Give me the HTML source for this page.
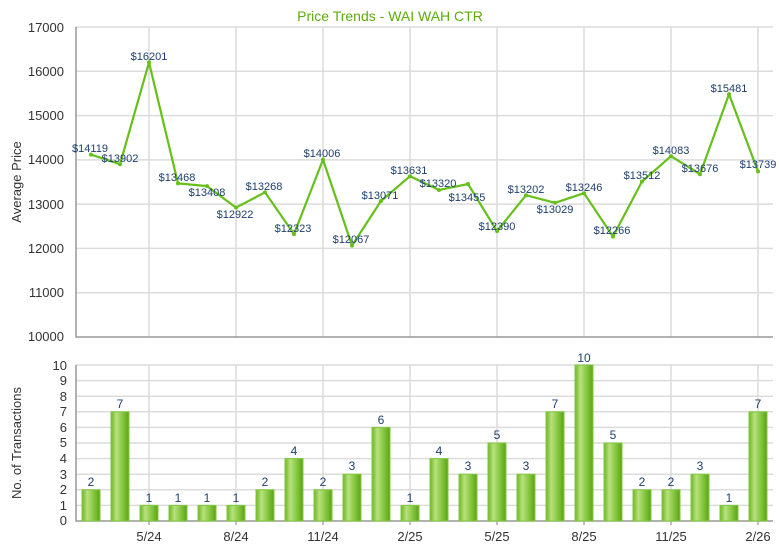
<!DOCTYPE html>
<html><head><meta charset="utf-8"><style>body{margin:0;background:#fff}svg{display:block;font-family:"Liberation Sans",Arial,sans-serif}</style></head><body>
<svg width="780" height="550" xmlns="http://www.w3.org/2000/svg">
<defs><linearGradient id="g" x1="0" x2="1" y1="0" y2="0"><stop offset="0" stop-color="#6db526"/><stop offset="0.3" stop-color="#b8e27e"/><stop offset="0.7" stop-color="#7fc23a"/><stop offset="1" stop-color="#5aa312"/></linearGradient></defs>
<text x="390" y="21" text-anchor="middle" font-size="14" fill="#5aae0a">Price Trends - WAI WAH CTR</text>
<g stroke="#dcdcdc" stroke-width="1.5">
<line x1="76" x2="773" y1="27" y2="27"/><line x1="76" x2="773" y1="71.3" y2="71.3"/><line x1="76" x2="773" y1="115.6" y2="115.6"/><line x1="76" x2="773" y1="159.9" y2="159.9"/><line x1="76" x2="773" y1="204.1" y2="204.1"/><line x1="76" x2="773" y1="248.4" y2="248.4"/><line x1="76" x2="773" y1="292.7" y2="292.7"/>
<line x1="76" x2="773" y1="365" y2="365"/><line x1="76" x2="773" y1="380.6" y2="380.6"/><line x1="76" x2="773" y1="396.2" y2="396.2"/><line x1="76" x2="773" y1="411.8" y2="411.8"/><line x1="76" x2="773" y1="427.4" y2="427.4"/><line x1="76" x2="773" y1="443" y2="443"/><line x1="76" x2="773" y1="458.6" y2="458.6"/><line x1="76" x2="773" y1="474.2" y2="474.2"/><line x1="76" x2="773" y1="489.8" y2="489.8"/><line x1="76" x2="773" y1="505.4" y2="505.4"/>
</g>
<g stroke="#dcdcdc" stroke-width="1.5">
<line x1="149" x2="149" y1="27" y2="337"/><line x1="236" x2="236" y1="27" y2="337"/><line x1="323" x2="323" y1="27" y2="337"/><line x1="410" x2="410" y1="27" y2="337"/><line x1="497" x2="497" y1="27" y2="337"/><line x1="584" x2="584" y1="27" y2="337"/><line x1="671" x2="671" y1="27" y2="337"/><line x1="758" x2="758" y1="27" y2="337"/>
<line x1="149" x2="149" y1="365" y2="521"/><line x1="236" x2="236" y1="365" y2="521"/><line x1="323" x2="323" y1="365" y2="521"/><line x1="410" x2="410" y1="365" y2="521"/><line x1="497" x2="497" y1="365" y2="521"/><line x1="584" x2="584" y1="365" y2="521"/><line x1="671" x2="671" y1="365" y2="521"/><line x1="758" x2="758" y1="365" y2="521"/>
</g>
<g stroke="#999" stroke-width="1.5" fill="none">
<polyline points="76,27 76,337 773,337"/><polyline points="76,365 76,521 773,521"/>
<g stroke="#aaa"><line x1="149" x2="149" y1="521" y2="525"/><line x1="236" x2="236" y1="521" y2="525"/><line x1="323" x2="323" y1="521" y2="525"/><line x1="410" x2="410" y1="521" y2="525"/><line x1="497" x2="497" y1="521" y2="525"/><line x1="584" x2="584" y1="521" y2="525"/><line x1="671" x2="671" y1="521" y2="525"/><line x1="758" x2="758" y1="521" y2="525"/></g>
</g>
<g font-size="13" fill="#333" text-anchor="end">
<text x="64" y="32">17000</text><text x="64" y="76">16000</text><text x="64" y="120">15000</text><text x="64" y="164">14000</text><text x="64" y="209">13000</text><text x="64" y="253">12000</text><text x="64" y="297">11000</text><text x="64" y="341">10000</text>
</g>
<g font-size="13" fill="#333" text-anchor="end">
<text x="67" y="370">10</text><text x="67" y="385">9</text><text x="67" y="401">8</text><text x="67" y="416">7</text><text x="67" y="432">6</text><text x="67" y="447">5</text><text x="67" y="463">4</text><text x="67" y="479">3</text><text x="67" y="494">2</text><text x="67" y="510">1</text><text x="67" y="525">0</text>
</g>
<g font-size="13" fill="#333" text-anchor="middle">
<text x="149" y="541">5/24</text><text x="236" y="541">8/24</text><text x="323" y="541">11/24</text><text x="410" y="541">2/25</text><text x="497" y="541">5/25</text><text x="584" y="541">8/25</text><text x="671" y="541">11/25</text><text x="758" y="541">2/26</text>
</g>
<text transform="translate(21,182) rotate(-90)" text-anchor="middle" font-size="13" fill="#333">Average Price</text>
<text transform="translate(21,443) rotate(-90)" text-anchor="middle" font-size="13" fill="#333">No. of Transactions</text>
<polyline fill="none" stroke="#66c01a" stroke-width="2.2" points="91,154.6 120,164.2 149,62.4 178,183.4 207,186.1 236,207.6 265,192.3 294,234.1 323,159.6 352,245.5 381,201 410,176.2 439,190 468,184 497,231.1 526,195.2 555,202.8 584,193.2 613,236.6 642,181.5 671,156.2 700,174.2 729,94.2 758,171.4"/>
<g fill="#66c01a"><circle cx="91" cy="154.6" r="2"/><circle cx="120" cy="164.2" r="2"/><circle cx="149" cy="62.4" r="2"/><circle cx="178" cy="183.4" r="2"/><circle cx="207" cy="186.1" r="2"/><circle cx="236" cy="207.6" r="2"/><circle cx="265" cy="192.3" r="2"/><circle cx="294" cy="234.1" r="2"/><circle cx="323" cy="159.6" r="2"/><circle cx="352" cy="245.5" r="2"/><circle cx="381" cy="201" r="2"/><circle cx="410" cy="176.2" r="2"/><circle cx="439" cy="190" r="2"/><circle cx="468" cy="184" r="2"/><circle cx="497" cy="231.1" r="2"/><circle cx="526" cy="195.2" r="2"/><circle cx="555" cy="202.8" r="2"/><circle cx="584" cy="193.2" r="2"/><circle cx="613" cy="236.6" r="2"/><circle cx="642" cy="181.5" r="2"/><circle cx="671" cy="156.2" r="2"/><circle cx="700" cy="174.2" r="2"/><circle cx="729" cy="94.2" r="2"/><circle cx="758" cy="171.4" r="2"/></g>
<g font-size="11" fill="#1d3f6e" text-anchor="middle">
<text x="90" y="152">$14119</text><text x="120" y="162">$13902</text><text x="149" y="60">$16201</text><text x="177" y="181">$13468</text><text x="207" y="196">$13408</text><text x="235" y="218">$12922</text><text x="264" y="190">$13268</text><text x="293" y="232">$12323</text><text x="322" y="157">$14006</text><text x="351" y="243">$12067</text><text x="380" y="199">$13071</text><text x="409" y="174">$13631</text><text x="438" y="187">$13320</text><text x="467" y="201">$13455</text><text x="497" y="230">$12390</text><text x="526" y="193">$13202</text><text x="555" y="213">$13029</text><text x="584" y="191">$13246</text><text x="612" y="234">$12266</text><text x="642" y="179">$13512</text><text x="671" y="154">$14083</text><text x="700" y="172">$13676</text><text x="729" y="92">$15481</text><text x="758" y="168">$13739</text>
</g>
<g fill="url(#g)" stroke="#80c83c" stroke-width="1">
<rect x="82" y="489.8" width="18" height="31.2"/><rect x="111" y="411.8" width="18" height="109.2"/><rect x="140" y="505.4" width="18" height="15.6"/><rect x="169" y="505.4" width="18" height="15.6"/><rect x="198" y="505.4" width="18" height="15.6"/><rect x="227" y="505.4" width="18" height="15.6"/><rect x="256" y="489.8" width="18" height="31.2"/><rect x="285" y="458.6" width="18" height="62.4"/><rect x="314" y="489.8" width="18" height="31.2"/><rect x="343" y="474.2" width="18" height="46.8"/><rect x="372" y="427.4" width="18" height="93.6"/><rect x="401" y="505.4" width="18" height="15.6"/><rect x="430" y="458.6" width="18" height="62.4"/><rect x="459" y="474.2" width="18" height="46.8"/><rect x="488" y="443" width="18" height="78"/><rect x="517" y="474.2" width="18" height="46.8"/><rect x="546" y="411.8" width="18" height="109.2"/><rect x="575" y="365" width="18" height="156"/><rect x="604" y="443" width="18" height="78"/><rect x="633" y="489.8" width="18" height="31.2"/><rect x="662" y="489.8" width="18" height="31.2"/><rect x="691" y="474.2" width="18" height="46.8"/><rect x="720" y="505.4" width="18" height="15.6"/><rect x="749" y="411.8" width="18" height="109.2"/>
</g>
<g font-size="12" fill="#1d3f6e" text-anchor="middle">
<text x="91" y="486">2</text><text x="120" y="408">7</text><text x="149" y="502">1</text><text x="178" y="502">1</text><text x="207" y="502">1</text><text x="236" y="502">1</text><text x="265" y="486">2</text><text x="294" y="455">4</text><text x="323" y="486">2</text><text x="352" y="470">3</text><text x="381" y="424">6</text><text x="410" y="502">1</text><text x="439" y="455">4</text><text x="468" y="470">3</text><text x="497" y="439">5</text><text x="526" y="470">3</text><text x="555" y="408">7</text><text x="584" y="362">10</text><text x="613" y="439">5</text><text x="642" y="486">2</text><text x="671" y="486">2</text><text x="700" y="470">3</text><text x="729" y="502">1</text><text x="758" y="408">7</text>
</g>
</svg>
</body></html>
